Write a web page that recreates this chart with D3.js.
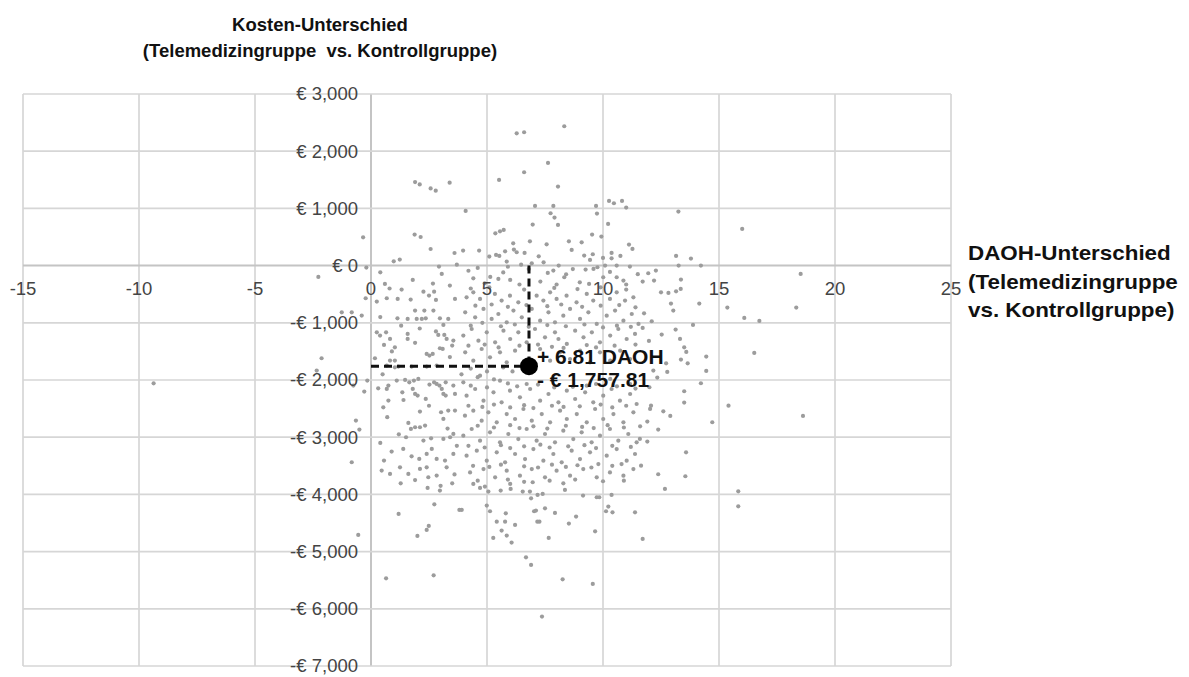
<!DOCTYPE html>
<html>
<head>
<meta charset="utf-8">
<script src="https://cdn.jsdelivr.net/npm/d3@7"></script>
<style>
  body { margin: 0; background: #fff; }
  svg { display: block; font-family: 'Liberation Sans', Arial, sans-serif; }
</style>
</head>
<body>
<div id="chart"></div>
<script>

const xTicks = [-15, -10, -5, 0, 5, 10, 15, 20, 25];
const yTicks = [3000, 2000, 1000, 0, -1000, -2000, -3000, -4000, -5000, -6000, -7000];

const titleLines = ['Kosten-Unterschied', '(Telemedizingruppe  vs. Kontrollgruppe)'];
const xTitleLines = ['DAOH-Unterschied', '(Telemedizingruppe', 'vs. Kontrollgruppe)'];

// mean of the bootstrap replicates: DAOH difference, cost difference
const meanPoint = [6.81, -1757.81];
const meanLabels = ['+ 6.81 DAOH', '- € 1,757.81'];

// bootstrap replicates [DAOH difference, cost difference in €]
const bootstrapPoints = [
  [1.90, 1460], [2.10, 1420], [2.57, 1350], [2.79, 1310], [3.39, 1450],
  [-0.34, 495], [1.88, 542], [2.14, 500], [2.57, 290], [3.60, 220], [0.98, 75], [1.24, 105],
  [-0.20, -35], [0.40, -117], [2.93, -17], [3.05, -145], [-2.27, -198], [3.70, 17], [2.67, -315],
  [6.28, 2313], [6.60, 2331], [8.33, 2436], [7.63, 1795], [6.60, 1632], [5.52, 1498], [8.06, 1381],
  [4.08, 956], [7.07, 1044], [7.86, 1044], [9.70, 1044], [9.74, 909], [10.26, 1131], [10.47, 1090],
  [10.82, 1131], [11.00, 1014], [7.74, 915], [7.91, 839], [6.97, 717], [8.06, 711], [10.22, 729],
  [5.36, 565], [5.56, 600], [5.72, 624], [9.53, 542], [9.93, 507], [6.85, 425], [6.13, 390],
  [7.57, 372], [8.53, 425], [9.08, 407], [11.12, 367], [11.27, 292], [3.97, 262], [4.66, 262],
  [5.78, 250], [6.16, 280], [6.28, 233], [6.62, 222], [7.23, 163], [8.65, 274], [9.19, 175],
  [9.56, 198], [9.44, 100], [10.00, 135], [10.37, 222], [10.37, 128], [10.75, 170], [5.10, 157],
  [5.39, 187], [5.53, 170], [5.85, 70], [7.44, 58], [6.93, 40], [6.47, 17], [8.09, 0],
  [11.16, -17], [10.59, 0], [10.09, 0], [9.76, -29], [9.25, -70], [4.41, -222], [5.14, -198],
  [5.49, -233], [6.00, -250], [7.62, -128], [7.86, -87], [8.41, -152], [8.33, -204], [9.00, -292],
  [9.59, -58], [10.01, -204], [10.59, -204], [10.88, -262],
  [13.25, 944], [16.00, 641], [13.15, 170], [13.79, 122], [13.26, 0], [14.22, 0], [12.28, -87],
  [11.95, -134], [11.71, -280], [12.20, -262], [13.36, -245], [18.52, -145],
  [12.50, -467], [12.82, -478], [13.15, -449], [13.35, -408], [15.36, -734], [18.33, -734],
  [12.93, -664], [13.03, -787], [14.15, -664], [16.09, -915], [16.74, -967], [13.88, -1037],
  [11.77, -834], [12.10, -973], [11.71, -1090], [13.13, -1119], [12.53, -1206], [13.32, -1282],
  [11.98, -1317], [13.50, -1428], [13.59, -1509], [14.45, -1591], [13.36, -1643], [13.65, -1708],
  [12.72, -1708], [16.52, -1527], [14.45, -1841], [12.77, -1858], [12.17, -1836], [12.34, -1958],
  [14.22, -2057], [12.00, -2127], [13.50, -2197], [13.50, -2395], [12.07, -2448], [12.03, -2505],
  [15.41, -2448], [12.60, -2547], [12.90, -2628], [18.62, -2628], [11.91, -2727], [14.71, -2739],
  [12.38, -2867], [11.59, -3030], [11.91, -3077], [13.58, -3264], [11.64, -3497], [12.38, -3648],
  [13.55, -3683], [12.67, -3904], [15.83, -3946], [15.83, -4208], [11.71, -4778],
  [-0.55, -4708], [1.19, -4341], [2.00, -4726], [2.40, -4621], [2.49, -4551], [2.73, -4173],
  [2.44, -3887], [2.97, -3934], [1.28, -3806], [3.50, -3806], [3.81, -4271], [0.65, -5467],
  [2.70, -5414],
  [4.41, -3817], [4.70, -3887], [4.91, -3864], [5.06, -3951], [5.59, -3934], [6.00, -3817],
  [6.02, -3904], [6.54, -3951], [6.85, -3951], [6.97, -3788], [6.90, -4068], [7.18, -4009],
  [7.40, -3992], [8.29, -3806], [8.36, -3922], [9.14, -4021], [9.73, -4050], [9.84, -4050],
  [10.37, -4009], [3.91, -4271], [4.99, -4196], [5.13, -4295], [5.81, -4330], [5.42, -4476],
  [5.78, -4476], [6.21, -4533], [5.63, -4633], [5.85, -4720], [5.27, -4761], [6.06, -4843],
  [7.03, -4295], [7.11, -4283], [7.50, -4243], [7.93, -4324], [7.17, -4476], [7.26, -4476],
  [8.53, -4510], [8.84, -4388], [7.66, -4761], [9.66, -4645], [10.13, -4295], [10.23, -4213],
  [10.41, -4313], [11.38, -4313], [6.68, -5100], [6.90, -5233], [8.26, -5484], [9.56, -5565],
  [7.37, -6136], [-9.37, -2058],
  [-0.23, -571], [0.25, -629], [0.68, -571], [1.15, -583], [1.32, -420], [1.71, -594], [2.26, -455],
  [2.50, -524], [2.72, -455], [3.62, -583], [-1.26, -816], [-0.83, -816], [-0.40, -874], [1.90, -787],
  [2.30, -787], [2.69, -787], [1.14, -921], [1.58, -932], [1.97, -932], [2.19, -932], [2.36, -921],
  [2.97, -921], [3.12, -1037], [3.33, -932], [0.25, -1166], [0.39, -1224], [0.65, -1166], [0.82, -1282],
  [0.56, -1387], [1.03, -1428], [1.58, -1194], [1.58, -1282], [2.90, -1212], [3.16, -1212],
  [3.26, -1282], [3.55, -1311], [2.97, -1445], [3.09, -1457], [3.50, -1399], [2.40, -1544],
  [2.52, -1573], [2.66, -1544], [0.17, -1620], [0.82, -1661], [1.03, -1661], [0.68, -1748],
  [1.03, -1778], [1.18, -1766], [1.75, -1766], [2.40, -1766], [2.83, -1748], [-2.34, -1836],
  [-2.13, -1620], [-0.16, -2010], [-0.76, -2098], [-0.29, -2203], [0.31, -2145], [0.68, -2156],
  [0.75, -2098], [1.11, -2010], [1.47, -1998], [1.65, -2040], [1.85, -2010], [2.04, -1981],
  [1.80, -2156], [1.90, -2243], [2.01, -2273], [2.36, -2331], [1.35, -2215], [2.52, -2080],
  [2.72, -2040], [2.83, -2069], [2.95, -2098], [3.05, -2156], [3.12, -2243], [3.22, -2273],
  [3.62, -2243], [3.22, -2040], [3.55, -2098], [0.75, -2360], [0.53, -2477], [2.11, -2552],
  [3.02, -2564], [3.12, -2680], [3.33, -2535], [3.62, -2535], [-0.65, -2710], [-0.50, -2867],
  [1.61, -2750], [1.72, -2855], [1.90, -2826], [2.11, -2826], [2.33, -2797], [1.51, -3001],
  [2.26, -3059], [2.59, -3019], [3.12, -3030], [3.41, -3001], [3.55, -2943], [-0.83, -3438],
  [0.56, -3409], [0.89, -3252], [1.39, -3205], [1.75, -3334], [2.08, -3380], [2.40, -3293],
  [2.62, -3205], [2.83, -3380], [3.19, -3409], [3.26, -3526], [3.55, -3293], [0.46, -3584],
  [0.82, -3642], [1.25, -3526], [1.61, -3642], [2.11, -3555], [2.40, -3526], [2.47, -3700],
  [2.83, -3671],
  [0.40, -900], [1.30, -1050], [2.10, -1100], [2.80, -1150], [0.90, -1500], [1.90, -1350],
  [3.40, -1600], [0.50, -1900], [1.40, -2350], [2.50, -2450], [3.30, -2850], [0.70, -2650],
  [1.20, -2950], [3.70, -3150], [0.40, -3100], [1.90, -3750], [3.00, -3850], [3.60, -3650],
  [2.80, -600], [0.80, -400], [3.40, -350], [1.80, -250], [0.60, -320],
  [4.12, -554], [4.41, -467], [4.70, -583], [5.34, -496], [5.63, -612], [5.99, -525], [6.35, -642],
  [7.14, -525], [7.43, -612], [7.72, -467], [8.00, -583], [8.43, -525], [8.86, -642], [9.30, -496],
  [9.58, -612], [10.30, -583], [10.59, -467], [10.95, -612], [11.31, -554],
  [4.20, -90], [4.90, -310], [5.70, -120], [6.40, -330], [6.80, -60], [7.30, -280], [8.00, -330],
  [8.70, -60], [9.40, -320], [10.30, -110], [11.00, -330], [11.50, -150], [4.60, -40], [5.90, -20],
  [4.30, -400], [5.10, -380], [6.60, -420], [7.90, -390], [8.90, -410], [9.90, -380], [11.00, -420],
  [4.06, -816], [4.49, -904], [4.85, -758], [5.20, -933], [5.49, -846], [5.85, -991], [6.14, -787],
  [6.50, -904], [6.93, -758], [7.29, -962], [7.65, -816], [7.93, -991], [8.29, -875], [8.58, -758],
  [9.01, -933], [9.37, -816], [9.73, -1020], [10.16, -875], [10.52, -787], [10.88, -962],
  [11.24, -846], [11.53, -1020],
  [4.50, -700], [5.20, -680], [5.90, -720], [6.70, -690], [7.60, -710], [8.20, -680], [9.10, -720],
  [9.90, -700], [10.70, -690], [11.40, -730],
  [3.98, -1224], [4.34, -1108], [4.63, -1312], [4.99, -1166], [5.35, -1341], [5.71, -1137],
  [6.00, -1283], [6.35, -1166], [6.71, -1341], [7.07, -1108], [7.50, -1254], [7.93, -1166],
  [8.08, -1283], [8.44, -1370], [8.80, -1137], [9.16, -1254], [9.52, -1166], [9.87, -1341],
  [10.31, -1224], [10.66, -1108], [11.02, -1283], [11.38, -1195],
  [4.30, -1050], [4.80, -1000], [5.60, -1060], [6.20, -1030], [6.80, -1070], [7.60, -1040],
  [8.40, -1060], [9.20, -1030], [10.00, -1080], [10.60, -1050], [11.20, -1070],
  [4.20, -1400], [4.90, -1380], [5.50, -1430], [6.40, -1400], [7.20, -1380], [7.80, -1420],
  [8.30, -1440], [9.30, -1390], [9.70, -1430], [10.50, -1400], [11.40, -1380],
  [4.06, -1516], [4.41, -1662], [4.77, -1458], [5.13, -1603], [5.56, -1516], [5.85, -1691],
  [6.21, -1487], [7.29, -1458], [7.72, -1662], [8.15, -1516], [8.58, -1633], [9.01, -1487],
  [9.44, -1691], [9.87, -1516], [10.31, -1662], [10.74, -1487], [11.17, -1633],
  [4.30, -1800], [5.00, -1850], [5.70, -1780], [6.10, -1850], [3.90, -1900], [4.60, -1950],
  [5.30, -1990],
  [3.98, -2040], [4.70, -1924], [5.56, -2012], [9.30, -2099], [10.31, -1982], [11.17, -2070],
  [6.71, -2070],
  [4.30, -2100], [5.00, -2130], [5.90, -2060], [6.30, -2110], [7.20, -2080], [7.90, -2130],
  [8.70, -2120], [9.70, -2070], [10.60, -2110], [11.40, -2150],
  [4.12, -2274], [4.49, -2157], [4.85, -2361], [5.28, -2216], [5.63, -2390], [5.99, -2186],
  [6.42, -2303], [6.86, -2157], [7.29, -2361], [7.65, -2245], [8.08, -2390], [8.44, -2186],
  [8.80, -2332], [9.23, -2216], [9.58, -2390], [10.01, -2274], [10.37, -2157], [10.73, -2361],
  [11.17, -2245], [11.45, -2420],
  [4.20, -2450], [4.80, -2470], [5.30, -2430], [6.00, -2480], [6.60, -2440], [7.00, -2490],
  [7.80, -2450], [8.30, -2470], [9.00, -2460], [9.90, -2430], [10.40, -2480], [11.00, -2450],
  [4.05, -2624], [4.41, -2536], [4.77, -2711], [5.06, -2565], [5.42, -2740], [5.85, -2595],
  [6.21, -2682], [6.57, -2507], [6.93, -2711], [7.36, -2595], [7.72, -2740], [8.15, -2536],
  [8.44, -2682], [8.87, -2595], [9.30, -2740], [9.66, -2507], [10.01, -2682], [10.45, -2595],
  [10.88, -2740], [11.31, -2565],
  [4.60, -2800], [5.30, -2830], [6.00, -2790], [6.40, -2840], [7.00, -2810], [7.60, -2850],
  [8.40, -2800], [9.10, -2820], [9.60, -2840], [10.20, -2790], [10.90, -2830], [11.60, -2810],
  [3.98, -2974], [4.34, -2857], [4.70, -3061], [5.13, -2915], [5.56, -3090], [5.92, -2944],
  [6.35, -3032], [6.71, -2857], [7.14, -3061], [7.50, -2944], [7.93, -3090], [8.29, -2886],
  [8.72, -3032], [9.08, -2915], [9.51, -3090], [9.87, -2974], [10.30, -2857], [10.66, -3061],
  [11.09, -2944], [11.45, -3090],
  [4.20, -3150], [4.90, -3180], [5.60, -3140], [6.00, -3190], [6.60, -3160], [7.30, -3130],
  [7.70, -3180], [8.50, -3160], [9.20, -3140], [9.70, -3190], [10.40, -3150], [11.20, -3170],
  [4.12, -3323], [4.56, -3236], [4.99, -3411], [5.42, -3265], [5.78, -3440], [6.21, -3294],
  [6.64, -3382], [7.00, -3207], [7.43, -3411], [7.86, -3294], [8.22, -3440], [8.65, -3236],
  [9.01, -3382], [9.44, -3265], [9.80, -3469], [10.16, -3323], [10.59, -3207], [11.02, -3411],
  [11.38, -3294],
  [4.40, -3500], [5.10, -3520], [5.60, -3480], [6.60, -3510], [7.20, -3530], [7.80, -3480],
  [8.40, -3520], [8.90, -3490], [9.50, -3530], [10.40, -3500], [10.80, -3470],
  [4.27, -3615], [4.85, -3557], [5.35, -3702], [5.85, -3586], [6.42, -3673], [6.93, -3557],
  [7.50, -3702], [8.00, -3586], [8.58, -3673], [9.15, -3557], [9.73, -3702], [10.30, -3615],
  [10.88, -3673], [11.31, -3557],
  [4.60, -3760], [5.90, -3740], [6.60, -3780], [7.70, -3760], [8.80, -3740], [10.00, -3770],
  [10.90, -3760]
];


function CostEffectPlane(selector, options) {

  this._selector = selector;
  this._width = options.width;
  this._height = options.height;
}


CostEffectPlane.prototype.formatEuro = function(v) {

  const s = d3.format(',')(Math.abs(v));
  return (v < 0 ? '-€ ' : '€ ') + s;
}


CostEffectPlane.prototype.render = function() {

  const self = this;

  const svg = d3.select(this._selector)
    .append('svg')
    .attr('width', this._width)
    .attr('height', this._height);

  const x = d3.scaleLinear().domain([-15, 25]).range([23, 951]);
  const y = d3.scaleLinear().domain([-7000, 3000]).range([666, 94]);

  // grid
  const grid = svg.append('g').attr('class', 'grid');
  grid.selectAll('line.v')
    .data(xTicks)
    .enter()
    .append('line')
    .attr('class', 'v')
    .attr('x1', function(d) { return x(d); })
    .attr('x2', function(d) { return x(d); })
    .attr('y1', y(3000))
    .attr('y2', y(-7000))
    .attr('stroke', function(d) { return d === 0 ? '#c4c4c4' : '#d6d6d6'; })
    .attr('stroke-width', function(d) { return d === 0 ? 2 : 1.7; });

  grid.selectAll('line.h')
    .data(yTicks)
    .enter()
    .append('line')
    .attr('class', 'h')
    .attr('x1', x(-15))
    .attr('x2', x(25))
    .attr('y1', function(d) { return y(d); })
    .attr('y2', function(d) { return y(d); })
    .attr('stroke', function(d) { return d === 0 ? '#c4c4c4' : '#d6d6d6'; })
    .attr('stroke-width', function(d) { return d === 0 ? 2 : 1.7; });

  // replicates
  svg.append('g')
    .selectAll('circle')
    .data(bootstrapPoints)
    .enter()
    .append('circle')
    .attr('cx', function(d) { return x(d[0]); })
    .attr('cy', function(d) { return y(d[1]); })
    .attr('r', 2.1)
    .attr('fill', '#9c9c9c');

  // tick labels
  svg.append('g')
    .selectAll('text')
    .data(yTicks)
    .enter()
    .append('text')
    .attr('x', x(0) - 13)
    .attr('y', function(d) { return y(d); })
    .attr('dy', '0.35em')
    .attr('text-anchor', 'end')
    .attr('font-size', 18.5)
    .attr('fill', '#444')
    .text(function(d) { return self.formatEuro(d); });

  svg.append('g')
    .selectAll('text')
    .data(xTicks)
    .enter()
    .append('text')
    .attr('x', function(d) { return x(d); })
    .attr('y', y(0) + 29)
    .attr('text-anchor', 'middle')
    .attr('font-size', 18.5)
    .attr('fill', '#444')
    .text(function(d) { return String(d); });

  // dashed guides to the mean
  const guides = svg.append('g')
    .attr('stroke', '#111')
    .attr('stroke-width', 3)
    .attr('stroke-dasharray', '8,5');
  guides.append('line')
    .attr('x1', x(meanPoint[0]))
    .attr('x2', x(meanPoint[0]))
    .attr('y1', y(0))
    .attr('y2', y(meanPoint[1]));
  guides.append('line')
    .attr('x1', x(0))
    .attr('x2', x(meanPoint[0]))
    .attr('y1', y(meanPoint[1]))
    .attr('y2', y(meanPoint[1]));

  svg.append('circle')
    .attr('cx', x(meanPoint[0]))
    .attr('cy', y(meanPoint[1]))
    .attr('r', 9)
    .attr('fill', '#000');

  svg.append('g')
    .selectAll('text')
    .data(meanLabels)
    .enter()
    .append('text')
    .attr('x', x(meanPoint[0]) + 8)
    .attr('y', function(d, i) { return y(meanPoint[1]) - 2 + i * 23; })
    .attr('font-size', 21)
    .attr('font-weight', 'bold')
    .attr('fill', '#111')
    .text(String);

  // titles
  svg.append('g')
    .selectAll('text')
    .data(titleLines)
    .enter()
    .append('text')
    .attr('x', 320)
    .attr('y', function(d, i) { return 31 + i * 26; })
    .attr('text-anchor', 'middle')
    .attr('font-size', 18.5)
    .attr('font-weight', 'bold')
    .attr('fill', '#111')
    .style('white-space', 'pre')
    .text(String);

  svg.append('g')
    .selectAll('text')
    .data(xTitleLines)
    .enter()
    .append('text')
    .attr('transform', function(d, i) {
      return 'translate(968,' + (260 + i * 28.5) + ') scale(1.12,1)';
    })
    .attr('font-size', 20)
    .attr('font-weight', 'bold')
    .attr('fill', '#111')
    .text(String);

  return this;
}


new CostEffectPlane('#chart', { width: 1189, height: 677 }).render();

</script>
</body>
</html>
